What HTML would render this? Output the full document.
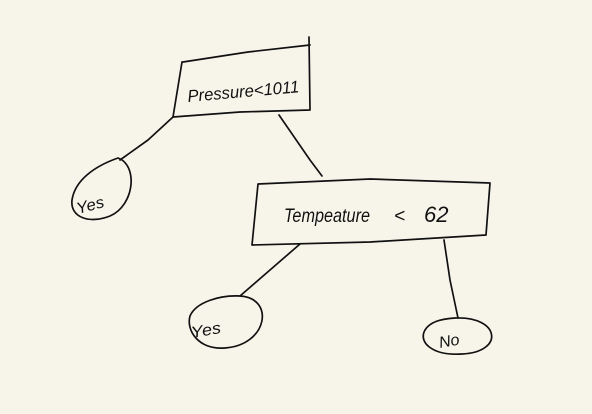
<!DOCTYPE html>
<html><head><style>
html,body{margin:0;padding:0;background:#f7f5ea;}
svg{display:block}
text{font-family:"Liberation Sans",sans-serif;font-style:italic;fill:#111;}
</style></head><body>
<svg width="592" height="414" viewBox="0 0 592 414" xmlns="http://www.w3.org/2000/svg">
<rect width="592" height="414" fill="#f7f5ea"/>
<g fill="none" stroke="#111" stroke-width="1.7" stroke-linecap="round" stroke-linejoin="round">
<path d="M183,62 L248,52 L310,45 M309,37 L310,110 L240,112 L173,117 L182,62"/>
<path d="M258,184 L370,179 L490,183 L486,235 L370,242 L252,245 L258,184"/>
<path d="M173,117 L148,140 L120,160"/>
<path d="M279,115 L310,160 L322,176"/>
<path d="M300,244 L270,270 L240,296"/>
<path d="M444,240 L450,280 L458,318"/>
<path d="M118,158 C138,165 135,205 110,216 C90,224 70,218 72,200 C75,180 95,166 118,158 Z"/>
<path d="M240,296 C275,298 268,345 225,348 C198,350 186,330 190,316 C196,302 220,295 240,296 Z"/>
<path d="M455,318 C500,316 505,352 462,354 C432,356 418,342 425,330 C430,322 440,319 455,318 Z"/>
</g>
<text x="188" y="102" font-size="17" textLength="112" lengthAdjust="spacingAndGlyphs" transform="rotate(-5 188 102)">Pressure&lt;1011</text>
<text x="284" y="222" font-size="19" textLength="86" lengthAdjust="spacingAndGlyphs">Tempeature</text>
<text x="394" y="222" font-size="19">&lt;</text>
<text x="424" y="222" font-size="22">62</text>
<text x="78" y="214" font-size="16" textLength="28" lengthAdjust="spacingAndGlyphs" transform="rotate(-15 78 214)">Yes</text>
<text x="192" y="338" font-size="16" textLength="30" lengthAdjust="spacingAndGlyphs" transform="rotate(-10 192 338)">Yes</text>
<text x="440" y="348" font-size="16" transform="rotate(-10 440 348)">No</text>
</svg>
</body></html>
